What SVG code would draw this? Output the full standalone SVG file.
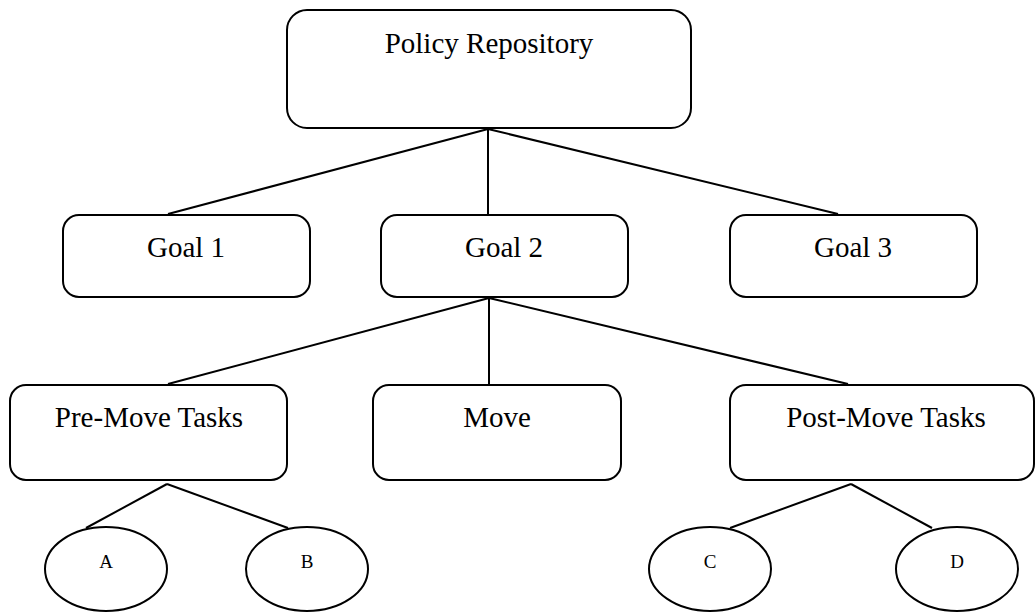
<svg xmlns="http://www.w3.org/2000/svg" width="1036" height="612" viewBox="0 0 1036 612">
<style>
.box{fill:#fff;stroke:#000;stroke-width:2}
.lbl{font-family:"Liberation Serif","Times New Roman",serif;font-size:29px;fill:#000;text-anchor:middle}
.sm{font-family:"Liberation Serif","Times New Roman",serif;font-size:19px;fill:#000;text-anchor:middle}
.con line{stroke:#000;stroke-width:2}
</style>
<rect width="1036" height="612" fill="#fff"/>
<g class="con" id="connectors">
<line x1="488" y1="129" x2="168" y2="214"/>
<line x1="488" y1="129" x2="488" y2="214"/>
<line x1="488" y1="129" x2="838" y2="214"/>
<line x1="489" y1="298" x2="168" y2="384"/>
<line x1="489" y1="298" x2="489" y2="384"/>
<line x1="489" y1="298" x2="848" y2="384"/>
<line x1="167" y1="484" x2="86" y2="528"/>
<line x1="167" y1="484" x2="288" y2="528"/>
<line x1="851" y1="484" x2="730" y2="528"/>
<line x1="851" y1="484" x2="932" y2="528"/>
</g>
<g id="policy"><rect class="box" x="287" y="10" width="404" height="118" rx="20"/><text class="lbl" x="489" y="53">Policy Repository</text></g>
<g id="goal1"><rect class="box" x="63" y="215" width="247" height="82" rx="16"/><text class="lbl" x="186" y="257">Goal 1</text></g>
<g id="goal2"><rect class="box" x="381" y="215" width="247" height="82" rx="16"/><text class="lbl" x="504" y="257">Goal 2</text></g>
<g id="goal3"><rect class="box" x="730" y="215" width="247" height="82" rx="16"/><text class="lbl" x="853" y="257">Goal 3</text></g>
<g id="premove"><rect class="box" x="10" y="385" width="277" height="95" rx="16"/><text class="lbl" x="149" y="427">Pre-Move Tasks</text></g>
<g id="move"><rect class="box" x="373" y="385" width="248" height="95" rx="16"/><text class="lbl" x="497" y="427">Move</text></g>
<g id="postmove"><rect class="box" x="730" y="385" width="304" height="95" rx="16"/><text class="lbl" x="886" y="427">Post-Move Tasks</text></g>
<g id="a"><ellipse class="box" cx="106" cy="569" rx="61" ry="42"/><text class="sm" x="106" y="568">A</text></g>
<g id="b"><ellipse class="box" cx="307" cy="569" rx="61" ry="42"/><text class="sm" x="307" y="568">B</text></g>
<g id="c"><ellipse class="box" cx="710" cy="569" rx="61" ry="42"/><text class="sm" x="710" y="568">C</text></g>
<g id="d"><ellipse class="box" cx="957" cy="569" rx="61" ry="42"/><text class="sm" x="957" y="568">D</text></g>
</svg>
